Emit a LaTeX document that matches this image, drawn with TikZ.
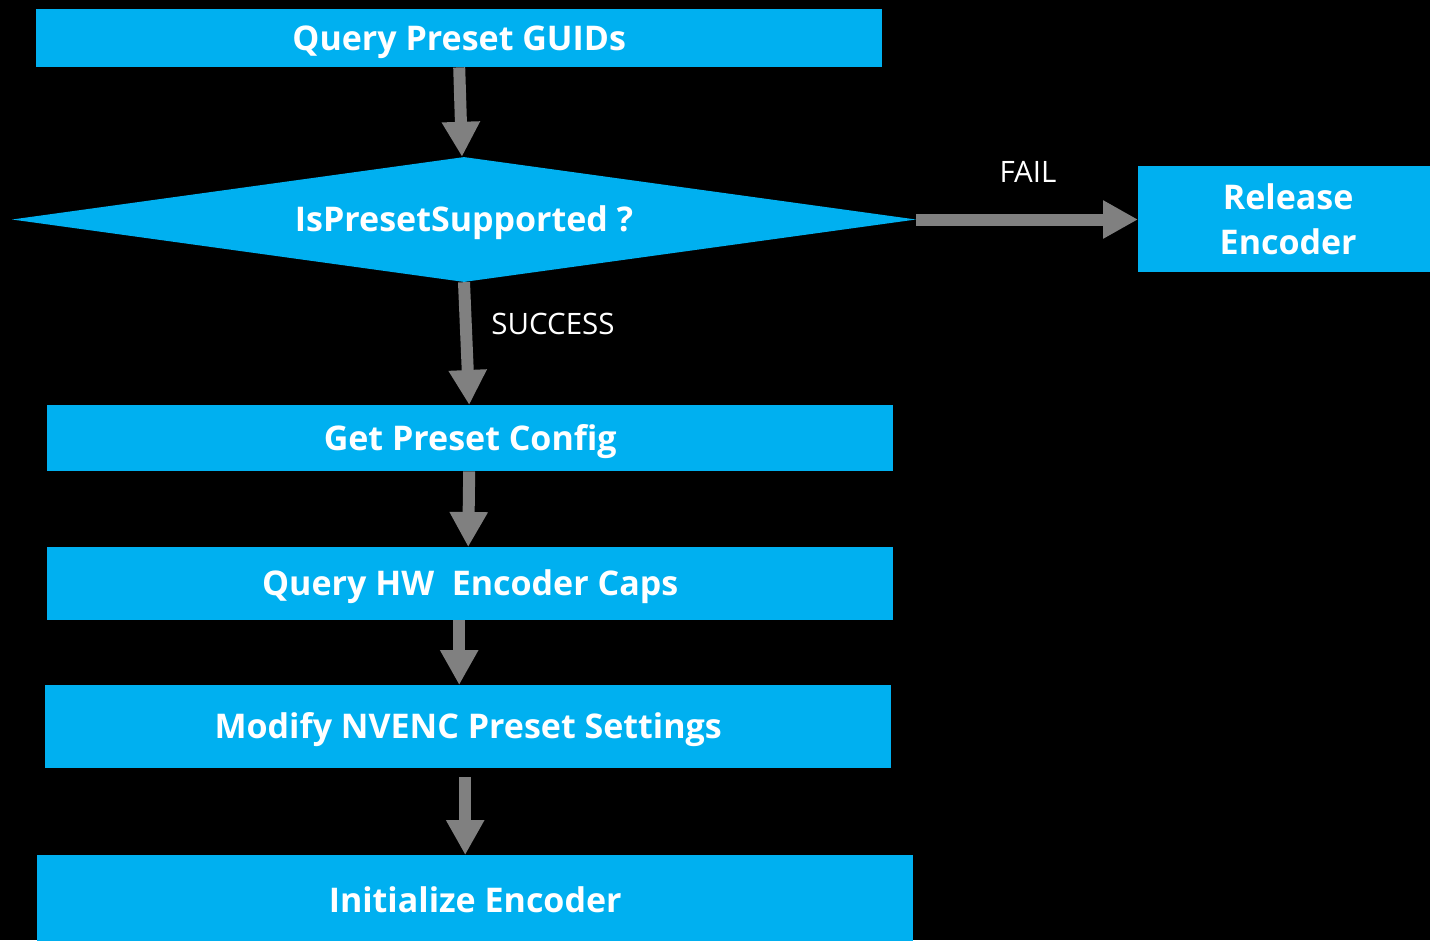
\documentclass[tikz,border=0pt]{standalone}
\usepackage{fontspec}
\setmainfont{Open Sans}
\usetikzlibrary{arrows.meta,shapes.geometric}
\definecolor{stepblue}{HTML}{00B0F0}
\definecolor{flowgray}{HTML}{808080}
\tikzset{
  x=1pt, y=-1pt,
  boxfont/.style={text=white, font=\fontsize{34}{45}\selectfont\bfseries},
  stepbox/.style={boxfont, fill=stepblue, draw=none, inner sep=0pt, anchor=north west,
    align=center, text height=24pt, text depth=0pt},
  decision/.style={boxfont, diamond, fill=stepblue, draw=none, inner sep=0pt, aspect=7,
    text height=24pt, text depth=0pt},
  flow/.style={draw=flowgray, line width=12pt,
    -{Triangle[width=36pt,length=35pt]}, flowgray},
  tag/.style={text=white, font=\fontsize{29.5}{36}\selectfont},
}
\begin{document}
\begin{tikzpicture}
\fill[black] (0,0) rectangle (1430,940);
\useasboundingbox (0,0) rectangle (1430,940);

% process steps
\node[stepbox, minimum width=846pt, minimum height=58pt] (q) at (36,9) {Query Preset GUIDs};
\node[decision, minimum width=904pt, minimum height=125pt] (d) at (464,219.5) {IsPresetSupported ?};
\node[boxfont, fill=stepblue, inner sep=0pt, anchor=north west, align=center,
  minimum width=300pt, minimum height=106pt] (r) at (1138,166) {Release\\Encoder};
\node[stepbox, minimum width=846pt, minimum height=66pt] (g) at (47,405) {Get Preset Config};
\node[stepbox, minimum width=846pt, minimum height=73pt] (h) at (47,547) {Query HW\ \ Encoder Caps};
\node[stepbox, minimum width=846pt, minimum height=83pt] (m) at (45,685) {Modify NVENC Preset Settings};
\node[stepbox, minimum width=876pt, minimum height=90pt] (i) at (37,855) {Initialize Encoder};

% connectors
\draw[flow] (q.south) -- ([xshift=-2pt]d.north);
\draw[flow] (d.east) -- (r.west |- d.east);
\draw[flow] (d.south) -- ([xshift=-1pt]g.north);
\draw[flow] ([xshift=-1pt]g.south) -- ([xshift=-2pt]h.north);
\draw[flow] ([xshift=-11pt]h.south) -- ([xshift=-9pt]m.north);
\draw[flow] ([shift={(-3,9)}]m.south) -- ([xshift=-10pt]i.north);

% outcome labels
\node[tag] (fail) at (1028,172) {FAIL};
\node[tag] (ok) at (553,324) {SUCCESS};
\end{tikzpicture}
\end{document}
